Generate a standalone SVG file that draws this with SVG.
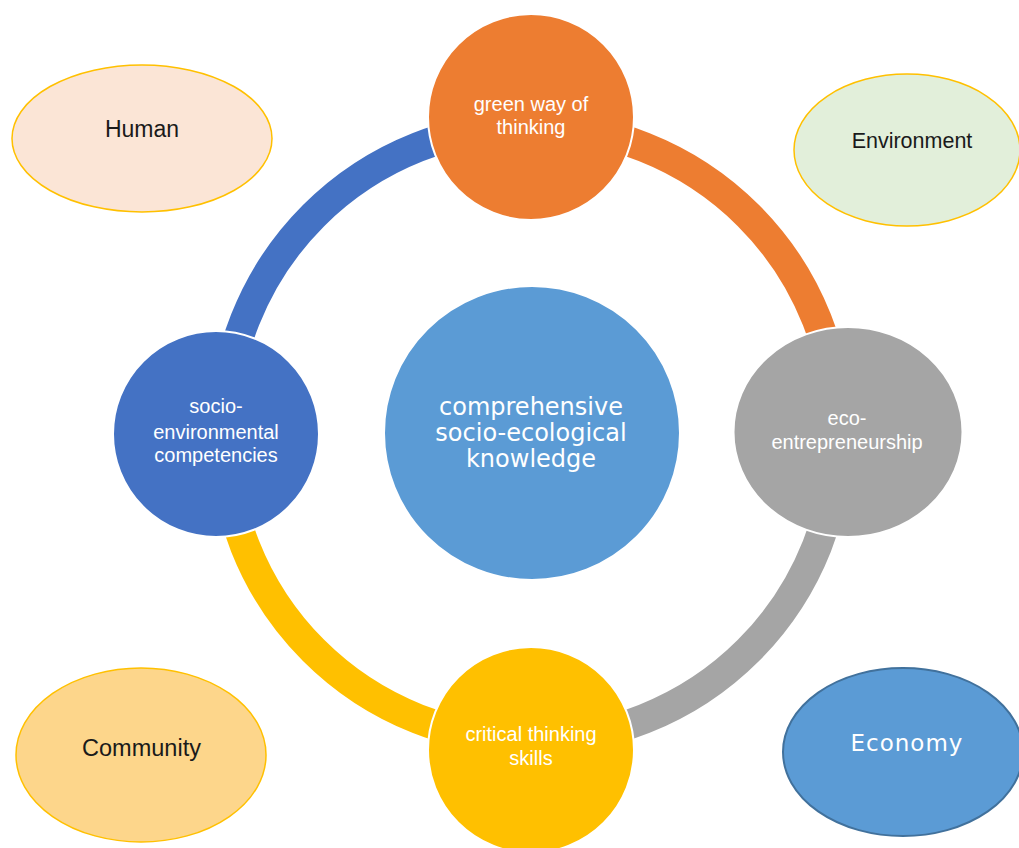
<svg xmlns="http://www.w3.org/2000/svg" width="1019" height="848" viewBox="0 0 1019 848">
<style>
.ring{fill:none;stroke-width:30}
.node{stroke:#fff;stroke-width:2}
.lbl{font-family:"Liberation Sans",Arial,sans-serif;font-size:20px;fill:#fff;text-anchor:middle}
.ctr{font-family:"DejaVu Sans",Verdana,sans-serif;font-size:24px;fill:#fff;text-anchor:middle}
.out{font-family:"Liberation Sans",Arial,sans-serif;font-size:23px;fill:#1a1a1a;text-anchor:middle}
.oval{stroke:#FFC000;stroke-width:1.5}
</style>
<rect width="1019" height="848" fill="#fff"/>
<g id="connectors">
<path class="ring" stroke="#4472C4" d="M223.5 433 A307.5 307.5 0 0 1 531 125.5"/>
<path class="ring" stroke="#ED7D31" d="M531 125.5 A307.5 307.5 0 0 1 838.5 433"/>
<path class="ring" stroke="#A5A5A5" d="M838.5 433 A307.5 307.5 0 0 1 531 740.5"/>
<path class="ring" stroke="#FFC000" d="M531 740.5 A307.5 307.5 0 0 1 223.5 433"/>
</g>
<g id="human">
<ellipse class="oval" cx="142" cy="138.5" rx="130" ry="73.5" fill="#FBE5D6"/>
<text class="out" x="142" y="137">Human</text>
</g>
<g id="environment">
<ellipse class="oval" cx="907" cy="150" rx="113" ry="76" fill="#E2EFDA"/>
<text class="out" x="912" y="148" style="font-size:21.5px">Environment</text>
</g>
<g id="community">
<ellipse class="oval" cx="141" cy="755" rx="125" ry="87" fill="#FDD68B"/>
<text class="out" x="141.5" y="756" style="font-size:23.5px">Community</text>
</g>
<g id="economy">
<ellipse cx="903" cy="752" rx="120" ry="84" fill="#5B9BD5" stroke="#41719C" stroke-width="2"/>
<text x="907" y="751" style="font-family:'DejaVu Sans',Verdana,sans-serif;font-size:23px;fill:#fff;text-anchor:middle;letter-spacing:1px">Economy</text>
</g>
<g id="center">
<ellipse cx="532" cy="433" rx="148" ry="147" fill="#5B9BD5" stroke="#fff" stroke-width="2"/>
<text class="ctr" x="531" y="415">comprehensive</text>
<text class="ctr" x="531" y="441">socio-ecological</text>
<text class="ctr" x="531" y="467">knowledge</text>
</g>
<g id="green-way">
<circle class="node" cx="531" cy="117" r="103" fill="#ED7D31"/>
<text class="lbl" x="531" y="111">green way of</text>
<text class="lbl" x="531" y="134">thinking</text>
</g>
<g id="eco-entrepreneurship">
<ellipse class="node" cx="848" cy="432" rx="114.5" ry="105" fill="#A5A5A5"/>
<text class="lbl" x="847" y="425">eco-</text>
<text class="lbl" x="847" y="449">entrepreneurship</text>
</g>
<g id="critical-thinking">
<circle class="node" cx="531" cy="750" r="103" fill="#FFC000"/>
<text class="lbl" x="531" y="741">critical thinking</text>
<text class="lbl" x="531" y="765">skills</text>
</g>
<g id="socio-environmental">
<circle class="node" cx="216" cy="434" r="103" fill="#4472C4"/>
<text class="lbl" x="216" y="413">socio-</text>
<text class="lbl" x="216" y="439">environmental</text>
<text class="lbl" x="216" y="462">competencies</text>
</g>
</svg>
